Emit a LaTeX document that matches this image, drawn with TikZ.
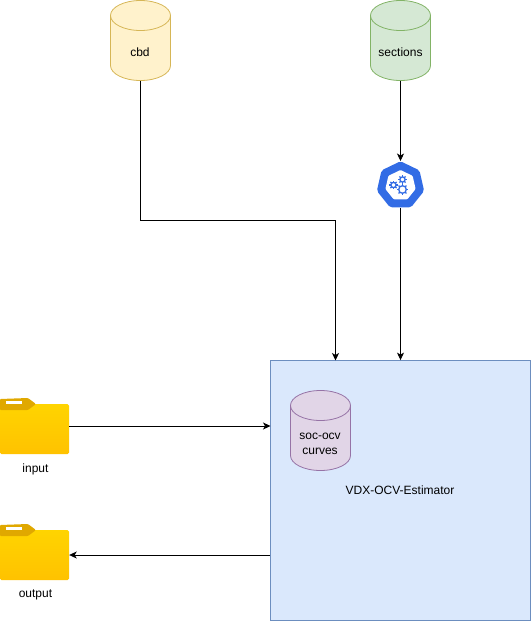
\documentclass[tikz,border=0pt]{standalone}
\usepackage{fontspec}
\setmainfont{Liberation Sans}
\usepackage{tikz}
\usetikzlibrary{arrows.meta,positioning,shapes.geometric}

\definecolor{foldertop}{HTML}{FFD400}
\definecolor{folderbot}{HTML}{FFC200}
\definecolor{foldertab}{HTML}{E0A800}
\definecolor{kubeblue}{HTML}{326CE5}
\definecolor{cbdfill}{HTML}{FFF2CC}\definecolor{cbdline}{HTML}{D6B656}
\definecolor{secfill}{HTML}{D5E8D4}\definecolor{secline}{HTML}{82B366}
\definecolor{socfill}{HTML}{E1D5E7}\definecolor{socline}{HTML}{9673A6}
\definecolor{estfill}{HTML}{DAE8FC}\definecolor{estline}{HTML}{6C8EBF}

% small cog of the icon
\newcommand{\cogwheel}[3]{%
  \draw[kubeblue, line width=1.3pt] (#1,#2) circle (#3);
  \foreach \ang in {0,45,...,315}
    \draw[kubeblue, line width=1.3pt] (#1,#2)++(\ang:#3) -- ++(\ang:1.8);
}
% outline of a drum round an empty node
\newcommand{\drumbody}[2]{%
  \draw[#2, line width=.8pt] (#1.north west) ++(0,15) -- ++(0,50)
    arc[start angle=180, end angle=360, x radius=30pt, y radius=15pt] -- ++(0,-50)
    arc[start angle=0, end angle=180, x radius=30pt, y radius=15pt] -- cycle;
  \draw[#2, fill=none, line width=.8pt] (#1.north west) ++(0,15)
    arc[start angle=180, end angle=360, x radius=30pt, y radius=15pt];
}

\begin{document}
\begin{tikzpicture}[
      x=1pt, y=-1pt,
      every node/.style={font=\fontsize{12}{15}\selectfont},
      drum/.style={minimum width=60pt, minimum height=80pt, inner sep=0pt, outer sep=0pt},
      drumtext/.style={align=center, inner sep=0pt},
      cbdcol/.style={fill=cbdfill, draw=cbdline},
      seccol/.style={fill=secfill, draw=secline},
      soccol/.style={fill=socfill, draw=socline},
      folder/.style={minimum width=69pt, minimum height=50pt, inner sep=0pt,
                     rounded corners=1.5pt, top color=foldertop, bottom color=folderbot},
      tab/.style={fill=foldertab, rounded corners=1pt},
      slot/.style={fill=white},
      arr/.style={-{Stealth[length=7.5pt, width=7pt, inset=2pt]}, line width=.8pt}]
    \useasboundingbox (0,0) rectangle (531,621);

    \node[drum] (cbd) at (140.5,40.5) {};
    \drumbody{cbd}{cbdcol}
    \node[drumtext, yshift=-12pt, xshift=-.5pt] (cbdtext) at (cbd.center) {cbd};
    \node[drum] (sections) at (400.5,40.5) {};
    \drumbody{sections}{seccol}
    \node[drumtext, yshift=-12pt] (sectionstext) at (sections.center) {sections};

    \node[regular polygon, regular polygon sides=7, minimum size=48.5pt, inner sep=0pt,
          fill=kubeblue, rounded corners=2pt] (kube) at (400.5,185.5) {};
    \node[regular polygon, regular polygon sides=7, minimum size=31pt, inner sep=0pt,
          fill=white, rounded corners=1pt] (kubeinner) at (400.5,185.5) {};
    \cogwheel{402.5}{189.5}{3.8}
    \cogwheel{393.5}{185}{2.6}
    \cogwheel{402.5}{179.5}{2.6}

    \node[draw=estline, fill=estfill, minimum size=260pt, inner sep=0pt, line width=.8pt]
          (estimator) at (400.5,490.5) {};
    \node (estlabel) at (400,490) {VDX-OCV-Estimator};
    \node[drum] (curves) at (320.5,430.5) {};
    \drumbody{curves}{soccol}
    \node[drumtext, yshift=-13pt, xshift=-.5pt] (curvestext) at (curves.center) {soc-ocv\\curves};

    % folders
    \node[folder] (input) at (34.5,429) {};
    \fill[tab] (0,399) -- (28,398) -- (36,404) -- (28,410) -- (0,410) -- cycle;
    \fill[slot] (6,401) rectangle (22,403.5);
    \node[below=6pt of input, xshift=1pt] (inputlabel) {input};

    \node[folder] (output) at (34.5,555) {};
    \fill[tab] (0,525) -- (28,524) -- (36,530) -- (28,536) -- (0,536) -- cycle;
    \fill[slot] (6,527) rectangle (22,529.5);
    \node[below=6pt of output, xshift=1pt] (outputlabel) {output};

    \coordinate (cbdport) at (335.5,360.5);
    \coordinate (inport) at (270.5,426);
    \draw[arr] (cbd.south) |- (335.5,220.5) -- (cbdport);
    \draw[arr] (sections.south) -- (kube.north);
    \draw[arr] (kube.south) -- (estimator.north);
    \draw[arr] (input.east |- inport) -- (inport);
    \draw[arr] (estimator.west |- output.east) -- (output.east);
\end{tikzpicture}
\end{document}
